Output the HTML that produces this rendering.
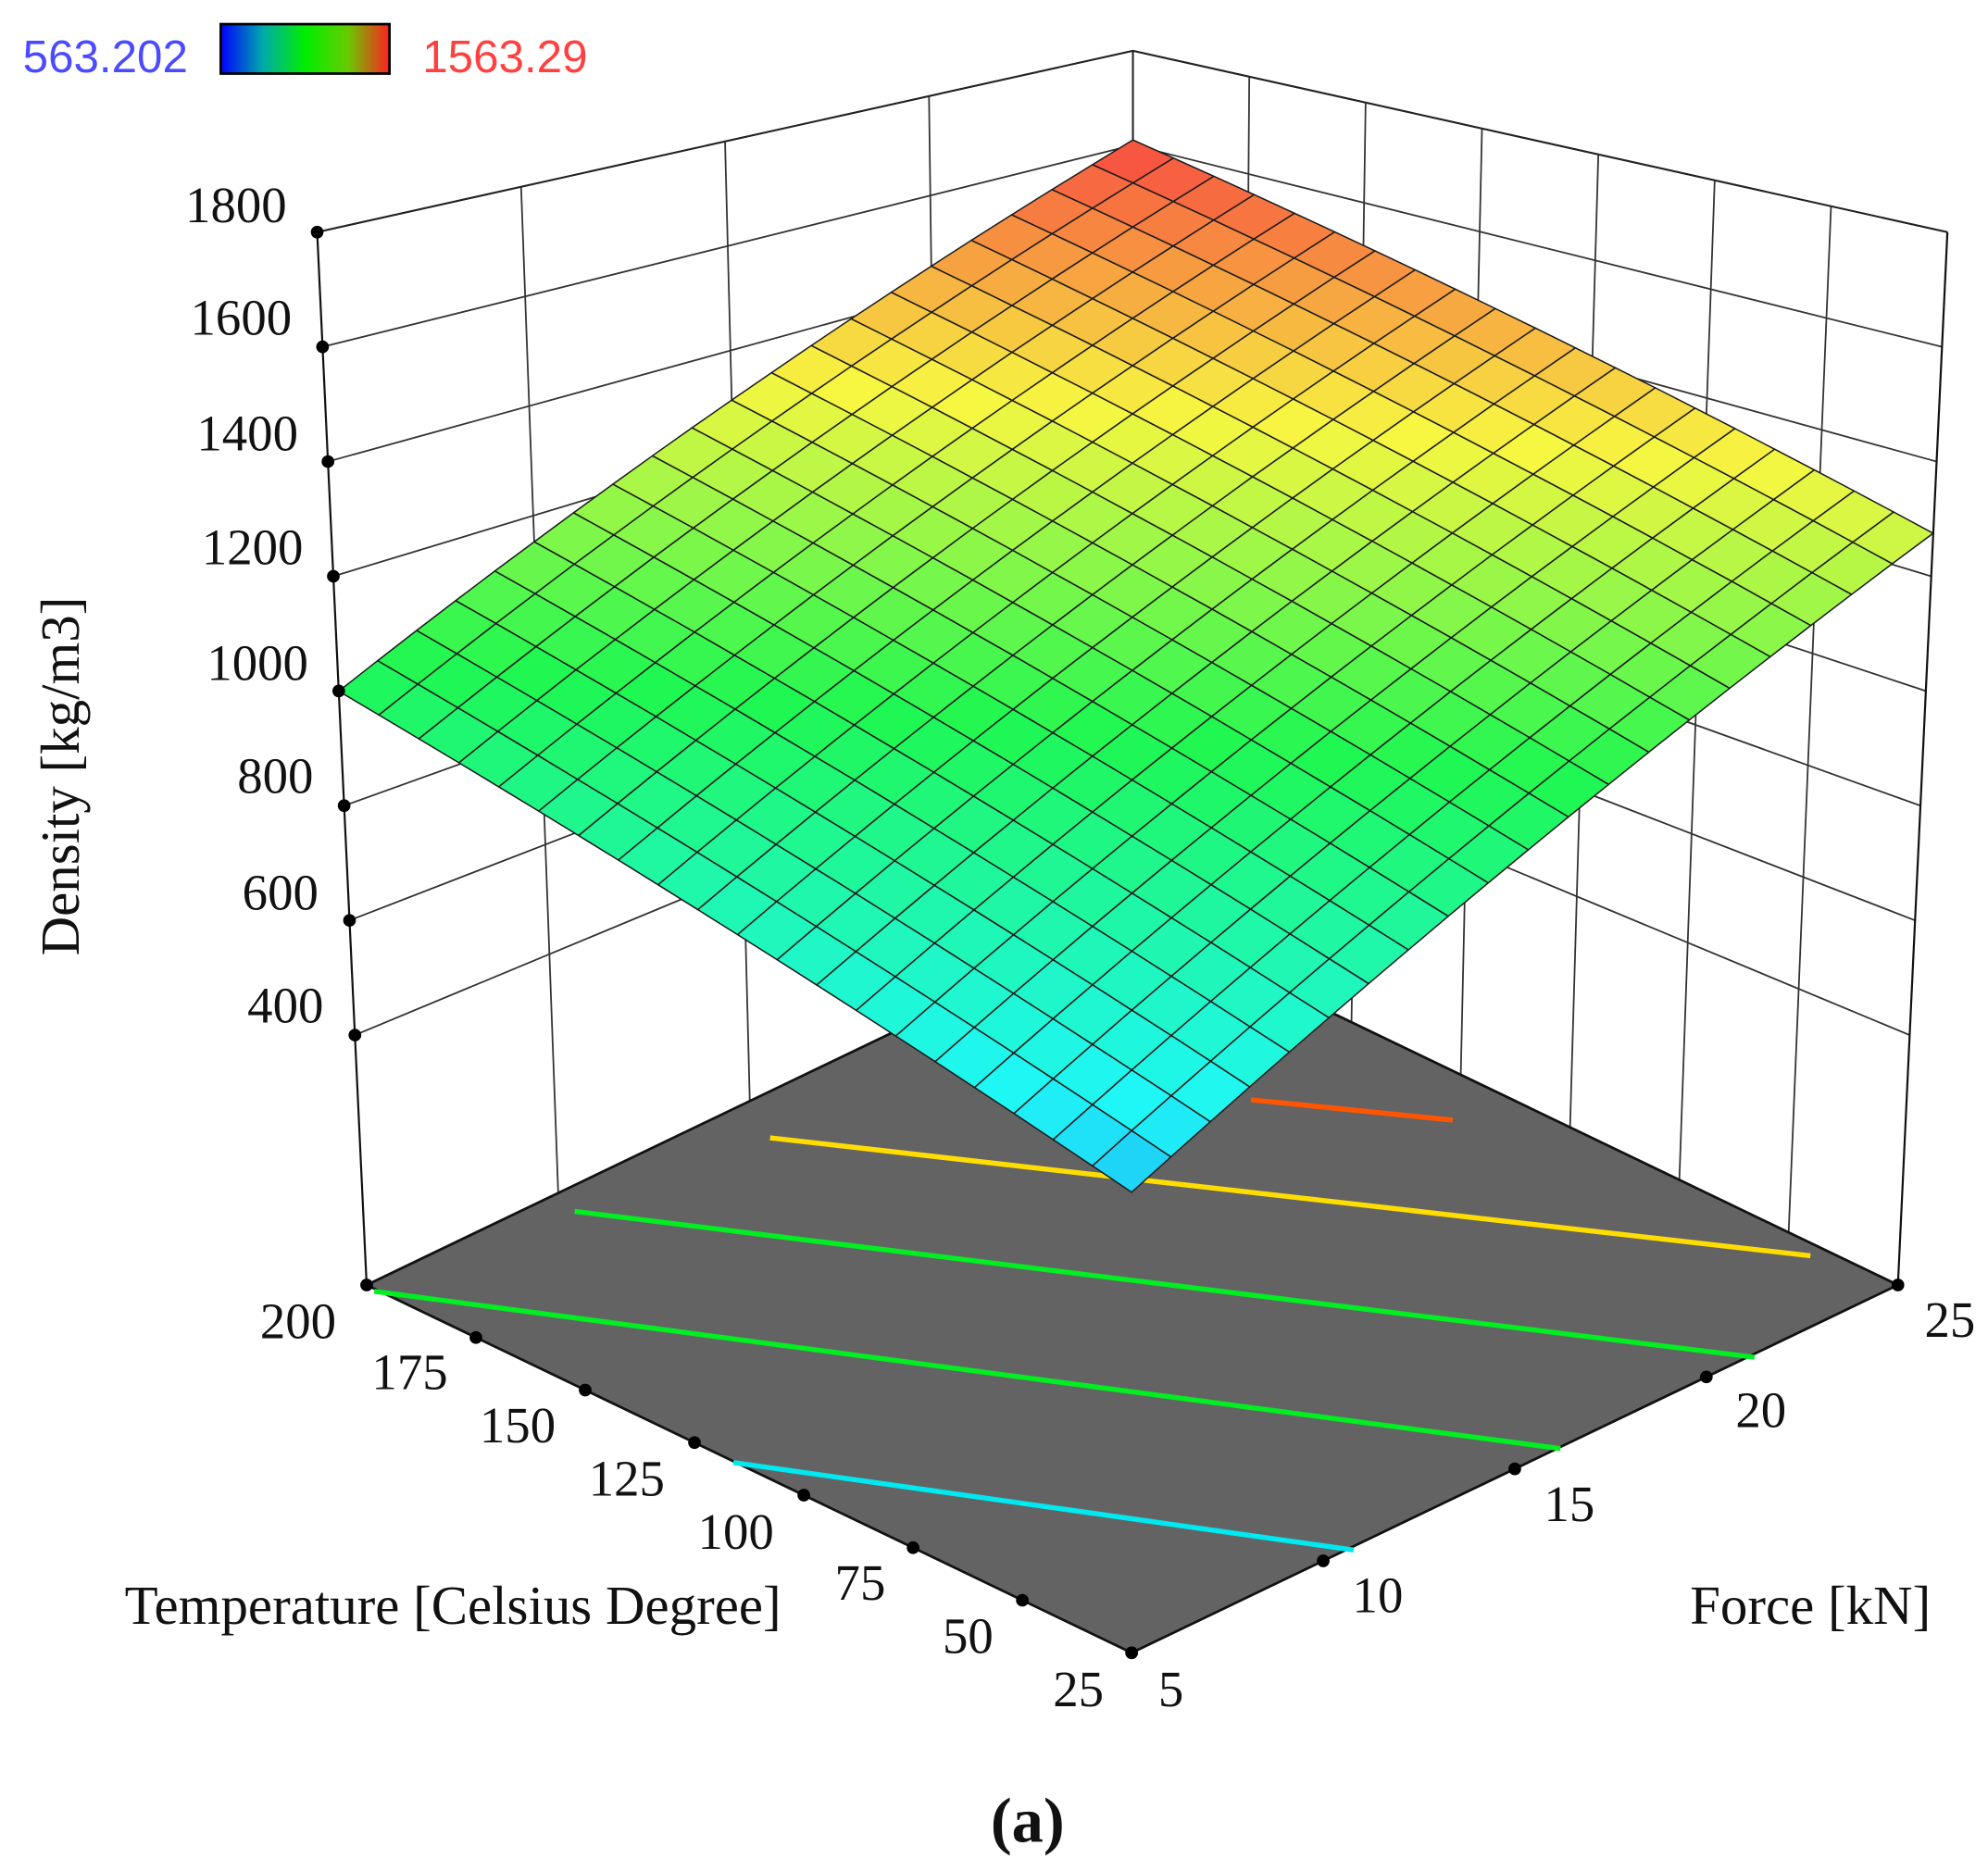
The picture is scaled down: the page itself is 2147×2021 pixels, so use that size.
<!DOCTYPE html>
<html><head><meta charset="utf-8"><style>
html,body{margin:0;padding:0;background:#fff;}
svg{display:block;}
.t{font-family:"Liberation Serif",serif;font-size:40px;fill:#111;}
.s{font-family:"Liberation Sans",sans-serif;font-size:36px;}
</style></head><body>
<svg id="c" width="2147" height="2021" viewBox="0 0 1567 1475" xmlns="http://www.w3.org/2000/svg">
<defs><linearGradient id="cb" x1="0" x2="1" y1="0" y2="0">
<stop offset="0" stop-color="#0000ff"/><stop offset="0.25" stop-color="#00aaaa"/><stop offset="0.5" stop-color="#00ee00"/><stop offset="0.75" stop-color="#66cc00"/><stop offset="1" stop-color="#ff2020"/></linearGradient></defs>
<g id="bg"></g>
<g id="surf"></g>
<g id="fg"></g>
<text class="s" x="18" y="57" fill="#4a4aff">563.202</text>
<rect x="174" y="19" width="133" height="39" fill="url(#cb)" stroke="#000" stroke-width="2"/>
<text class="s" x="333" y="57" fill="#ff4040">1563.29</text>
<g class="t" text-anchor="end">
<text x="226" y="175">1800</text><text x="230" y="264">1600</text><text x="235" y="355">1400</text><text x="239" y="445">1200</text><text x="243" y="536">1000</text><text x="247" y="625">800</text><text x="251" y="717">600</text><text x="255" y="806">400</text>
</g>
<g class="t" text-anchor="middle">
<text x="235" y="1055">200</text><text x="323" y="1095">175</text><text x="408" y="1137">150</text><text x="494" y="1179">125</text><text x="580" y="1221">100</text><text x="678" y="1261">75</text><text x="763" y="1303">50</text><text x="850" y="1345">25</text>
<text x="923" y="1345">5</text><text x="1086" y="1271">10</text><text x="1237" y="1199">15</text><text x="1388" y="1125">20</text><text x="1537" y="1054">25</text>
<text x="357" y="1280" style="font-size:43px">Temperature [Celsius Degree]</text>
<text x="1427" y="1280" style="font-size:43px">Force [kN]</text>
<text x="810" y="1452" style="font-size:50px;font-weight:bold">(a)</text>
<text transform="translate(62,612) rotate(-90)" style="font-size:43px">Density [kg/m3]</text>
</g>
</svg>
<script>
(function(){
var NS="http://www.w3.org/2000/svg";
function el(p,n,a){var e=document.createElementNS(NS,n);for(var k in a)e.setAttribute(k,a[k]);p.appendChild(e);return e;}
var bg=document.getElementById('bg'),sf=document.getElementById('surf'),fg=document.getElementById('fg');
function L(t){return [289-39*t,1013-830*t];}
function R(t){return [1496+39*t,1013-830*t];}
function B(t){return [893,723-683*t];}
function F(t){return [892,1303-953*t];}
function lerp(a,b,s){return [a[0]+(b[0]-a[0])*s,a[1]+(b[1]-a[1])*s];}
function P(u,v,t){var f=F(t),l=L(t),r=R(t),b=B(t);
 var x=(1-u)*(1-v)*f[0]+u*(1-v)*l[0]+(1-u)*v*r[0]+u*v*b[0];
 var y=(1-u)*(1-v)*f[1]+u*(1-v)*l[1]+(1-u)*v*r[1]+u*v*b[1];return [x,y];}
function pts(a){return a.map(function(p){return p[0].toFixed(1)+','+p[1].toFixed(1);}).join(' ');}
el(bg,'polygon',{points:pts([L(0),L(1),B(1),B(0)]),fill:'#fff'});
function line(g,a,b,w,c){el(g,'line',{x1:a[0],y1:a[1],x2:b[0],y2:b[1],stroke:c||'#333','stroke-width':w||1.3});}
function tOf(V){var y=183+(1800-V)/200*90.43;return (1013-y)/830;}
var ticks=[400,600,800,1000,1200,1400,1600,1800];
ticks.forEach(function(V){var t=tOf(V);line(bg,L(t),B(t));line(bg,B(t),R(t));});
for(var i=1;i<4;i++){var s=i/4;line(bg,lerp(L(0),B(0),s),lerp(L(1),B(1),s));}
for(var i=1;i<7;i++){var s=i/7;line(bg,lerp(B(0),R(0),s),lerp(B(1),R(1),s));}
line(bg,B(0),B(1),1.5,'#222');line(bg,L(1),B(1),1.5,'#222');line(bg,B(1),R(1),1.5,'#222');
el(bg,'polygon',{points:pts([L(0),F(0),R(0),B(0)]),fill:'#636363',stroke:'#111','stroke-width':2});
function cl(a,b,c){el(bg,'line',{x1:a[0],y1:a[1],x2:b[0],y2:b[1],stroke:c,'stroke-width':4});}
cl([578,1153],[1067,1222],'#00e8f0');
cl([295,1018],[1230,1142],'#00ee22');
cl([453,955],[1383,1070],'#00ee22');
cl([607,897],[1427,990],'#ffdd00');
cl([986,867],[1145,883],'#ff5500');
line(bg,L(0),L(1),1.6,'#111');line(bg,R(0),R(1),1.6,'#111');
var stops=[[0,[0,0,255]],[0.25,[0,255,255]],[0.5,[0,255,60]],[0.75,[255,255,40]],[1,[255,40,40]]];
function col(n){n=Math.max(0,Math.min(1,n));for(var i=1;i<stops.length;i++){if(n<=stops[i][0]){var a=stops[i-1],b=stops[i],s=(n-a[0])/(b[0]-a[0]);
 var c=[0,1,2].map(function(k){var v=a[1][k]+(b[1][k]-a[1][k])*s;return Math.round(v*0.85+255*0.12);});return 'rgb('+c.join(',')+')';}}return '#f44';}
function tS(u,v){return 0.381+0.183*u+0.333*v;}
var N=20;
for(var i=0;i<N;i++)for(var j=0;j<N;j++){
 var u0=i/N,u1=(i+1)/N,v0=j/N,v1=(j+1)/N;
 var q=[P(u0,v0,tS(u0,v0)),P(u1,v0,tS(u1,v0)),P(u1,v1,tS(u1,v1)),P(u0,v1,tS(u0,v1))];
 var tc=tS((u0+u1)/2,(v0+v1)/2);var z=182+tc*1618;var n=(z-563)/1000;
 n=(n-0.235)*0.8/0.835+0.19;
 el(sf,'polygon',{points:pts(q),fill:col(n),stroke:'#1a1a1a','stroke-width':1.1,'stroke-linejoin':'round'});
}
ticks.forEach(function(V){var p=L(tOf(V));el(fg,'circle',{cx:p[0],cy:p[1],r:5,fill:'#000'});});
for(var i=0;i<=7;i++){var p=lerp(F(0),L(0),i/7);el(fg,'circle',{cx:p[0],cy:p[1],r:5,fill:'#000'});}
for(var i=0;i<=4;i++){var p=lerp(F(0),R(0),i/4);el(fg,'circle',{cx:p[0],cy:p[1],r:5,fill:'#000'});}
})();
</script>
</body></html>
